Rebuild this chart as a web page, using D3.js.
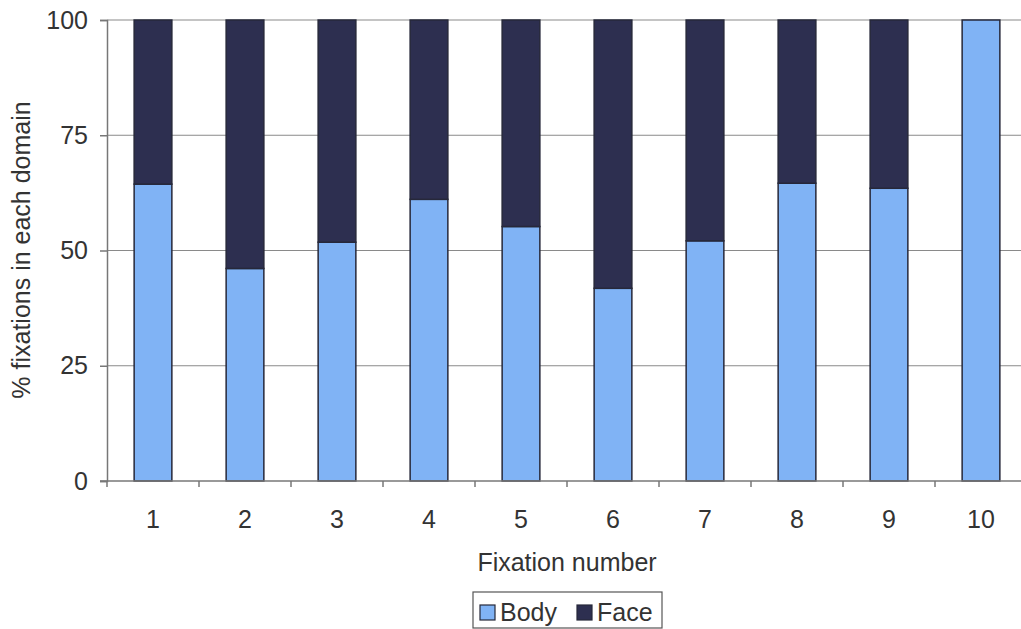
<!DOCTYPE html>
<html><head><meta charset="utf-8">
<script src="https://cdn.jsdelivr.net/npm/d3@7"></script>
<style>body{margin:0;background:#fff;} svg{display:block;font-family:"Liberation Sans",Arial,sans-serif;}</style>
</head><body>
<svg id="c" width="1021" height="629"></svg>
<script>
const categories = ["1","2","3","4","5","6","7","8","9","10"];
const bodyValues = [64.4, 46.1, 51.8, 61.1, 55.2, 41.8, 52.1, 64.6, 63.5, 100];
const faceValues = bodyValues.map(v => 100 - v);
const yTicks = [0, 25, 50, 75, 100];
const seriesNames = ["Body", "Face"];
const colors = {Body: "#80b3f5", Face: "#2d2f50"};
const FS = 25;
const FF = "Liberation Sans, Arial, sans-serif";

const svg = d3.select("#c");
const pLeft = 107, pRight = 1027, pTop = 20, pBottom = 481;
const x = d3.scaleBand().domain(categories).range([pLeft, pRight]).paddingInner(0.59).paddingOuter(0.295);
const y = d3.scaleLinear().domain([0, 100]).range([pBottom, pTop]);

// gridlines
svg.append("g").selectAll("line").data(yTicks.filter(t => t > 0)).join("line")
  .attr("x1", pLeft).attr("x2", 1021).attr("y1", d => y(d)).attr("y2", d => y(d))
  .attr("stroke", "#8a8a8a").attr("stroke-width", 1.2);

// stacked bars
const data = categories.map((c, i) => ({c, Body: bodyValues[i], Face: faceValues[i]}));
const stack = d3.stack().keys(seriesNames)(data);
svg.append("g").selectAll("g").data(stack).join("g")
  .attr("fill", d => colors[d.key])
  .selectAll("rect").data(d => d.filter(p => p[1] - p[0] > 0)).join("rect")
  .attr("x", d => x(d.data.c)).attr("width", x.bandwidth())
  .attr("y", d => y(d[1])).attr("height", d => y(d[0]) - y(d[1]))
  .attr("stroke", "#26283a").attr("stroke-width", 1.5);

// y axis
const yAxis = svg.append("g").attr("transform", `translate(${pLeft},0)`)
  .call(d3.axisLeft(y).tickValues(yTicks).tickSize(7).tickPadding(12));
yAxis.select(".domain").attr("stroke", "#777").attr("stroke-width", 1.5);
yAxis.selectAll(".tick line").attr("stroke", "#777").attr("stroke-width", 1.5);
yAxis.selectAll("text").attr("font-size", FS).attr("fill", "#333").attr("font-family", FF);

// x axis
const xAxis = svg.append("g").attr("transform", `translate(0,${pBottom})`)
  .call(d3.axisBottom(x).tickSize(0).tickPadding(29));
xAxis.select(".domain").remove();
xAxis.selectAll("text").attr("font-size", FS).attr("fill", "#333").attr("font-family", FF);
svg.append("line").attr("x1", pLeft - 7).attr("x2", 1021).attr("y1", pBottom).attr("y2", pBottom)
  .attr("stroke", "#777").attr("stroke-width", 1.5);
// category separator ticks
const step = x.step();
const sepPos = d3.range(0, categories.length).map(i => x(categories[i]) - (step - x.bandwidth()) / 2);
svg.append("g").selectAll("line").data(sepPos).join("line")
  .attr("x1", d => d).attr("x2", d => d).attr("y1", pBottom).attr("y2", pBottom + 6)
  .attr("stroke", "#777").attr("stroke-width", 1.5);

// axis titles
svg.append("text").attr("x", 567).attr("y", 571).attr("text-anchor", "middle")
  .attr("font-size", FS).attr("fill", "#333").text("Fixation number");
svg.append("text").attr("transform", "translate(30,250) rotate(-90)").attr("text-anchor", "middle")
  .attr("font-size", FS).attr("fill", "#333").text("% fixations in each domain");

// legend
const lg = svg.append("g");
lg.append("rect").attr("x", 473).attr("y", 592).attr("width", 189).attr("height", 36)
  .attr("fill", "#fff").attr("stroke", "#555").attr("stroke-width", 1.2);
const items = [{k: "Body", x: 480}, {k: "Face", x: 577}];
items.forEach(it => {
  lg.append("rect").attr("x", it.x).attr("y", 605).attr("width", 15).attr("height", 15)
    .attr("fill", colors[it.k]).attr("stroke", "#26283a").attr("stroke-width", 1.2);
  lg.append("text").attr("x", it.x + 20).attr("y", 621).attr("font-size", FS).attr("fill", "#333").text(it.k);
});
</script>
</body></html>
